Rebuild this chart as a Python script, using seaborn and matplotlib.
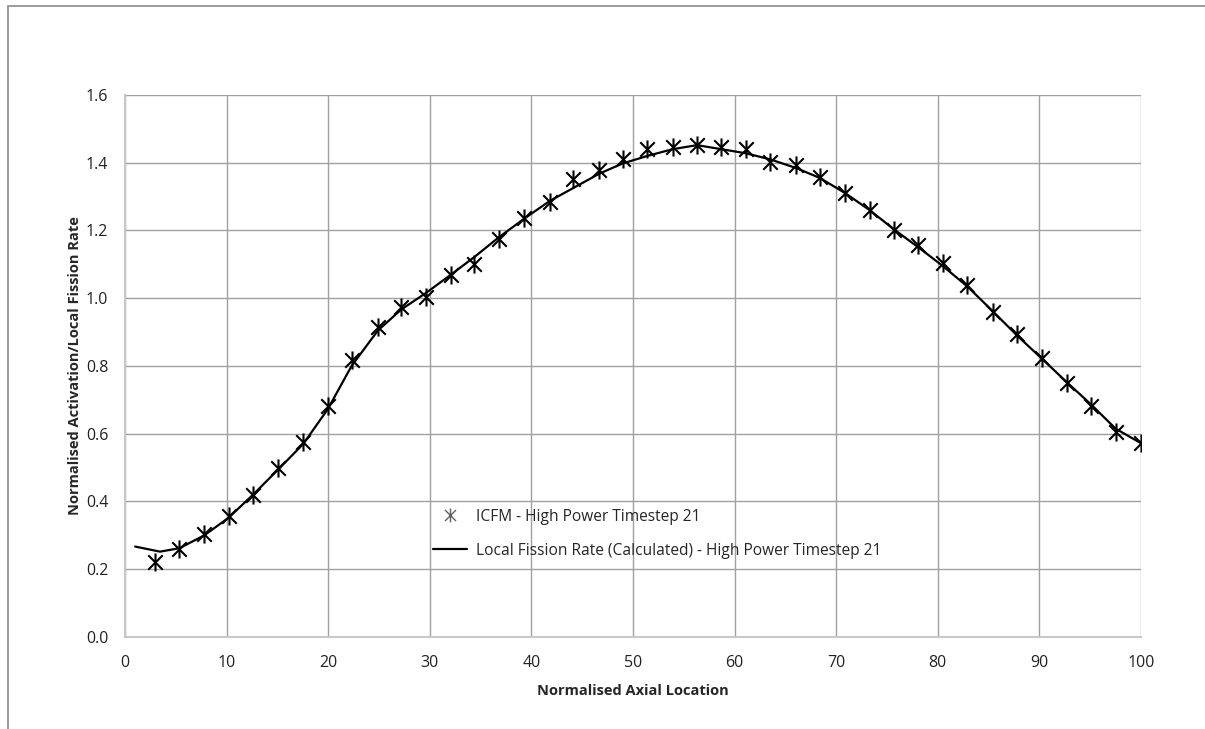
import numpy as np
import pandas as pd
import seaborn as sns
import matplotlib.pyplot as plt
from matplotlib.lines import Line2D
from matplotlib.patches import Rectangle
from matplotlib.path import Path

# ICFM measured points
icfm_x = [2.95, 5.35, 7.8, 10.2, 12.6, 15.1, 17.55, 19.95, 22.3, 24.9, 27.2, 29.6,
          32.1, 34.4, 36.8, 39.3, 41.8, 44.1, 46.7, 49.0, 51.4, 53.9, 56.3, 58.7,
          61.1, 63.5, 66.0, 68.4, 70.9, 73.3, 75.7, 78.1, 80.5, 82.9, 85.4, 87.8,
          90.3, 92.7, 95.1, 97.5, 100.0]
icfm_y = [0.222, 0.259, 0.304, 0.357, 0.419, 0.498, 0.575, 0.682, 0.818, 0.916, 0.973, 1.003,
          1.069, 1.101, 1.175, 1.236, 1.283, 1.351, 1.379, 1.410, 1.440, 1.447, 1.451, 1.446,
          1.440, 1.403, 1.393, 1.359, 1.310, 1.260, 1.201, 1.157, 1.105, 1.039, 0.960, 0.894,
          0.823, 0.749, 0.682, 0.606, 0.572]

# calculated local fission rate
calc_x = [1.0, 3.45, 5.35, 7.8, 10.2, 12.6, 15.1, 17.55, 19.95, 22.3, 24.9, 27.2, 29.6,
          32.1, 34.4, 36.8, 39.3, 41.8, 44.1, 46.7, 49.0, 51.4, 53.9, 56.3, 58.7,
          61.1, 63.5, 66.0, 68.4, 70.9, 73.3, 75.7, 78.1, 80.5, 82.9, 85.4, 87.8,
          90.3, 92.7, 95.1, 97.5, 100.0]
calc_y = [0.267, 0.252, 0.262, 0.300, 0.352, 0.420, 0.495, 0.570, 0.672, 0.800, 0.905, 0.967, 1.015,
          1.070, 1.122, 1.180, 1.235, 1.287, 1.325, 1.368, 1.398, 1.420, 1.440, 1.452, 1.440,
          1.428, 1.410, 1.385, 1.355, 1.310, 1.260, 1.203, 1.150, 1.095, 1.035, 0.962, 0.890,
          0.820, 0.752, 0.686, 0.615, 0.572]

icfm = pd.DataFrame({'x': icfm_x, 'y': icfm_y})
calc = pd.DataFrame({'x': calc_x, 'y': calc_y})

# Excel-style star marker: X plus a vertical bar
star = Path([(0, -1), (0, 1), (-0.8, -0.8), (0.8, 0.8), (-0.8, 0.8), (0.8, -0.8)],
            [Path.MOVETO, Path.LINETO] * 3)

sns.set_style('whitegrid')
plt.rcParams['font.family'] = ['Open Sans', 'DejaVu Sans']

fig = plt.figure(figsize=(12.05, 7.29), dpi=100)
ax = fig.add_axes([0.1037, 0.1262, 0.8432, 0.7435])

sns.lineplot(data=calc, x='x', y='y', color='black', linewidth=1.6, ax=ax,
             sort=False, zorder=3)
sns.scatterplot(data=icfm, x='x', y='y', marker=star, s=170, color='black',
                edgecolor='black', linewidth=1.5, ax=ax, zorder=4)

ax.set_xlim(0, 100)
ax.set_ylim(0, 1.6)
ax.set_xticks(np.arange(0, 101, 10))
ax.set_yticks(np.arange(0, 1.61, 0.2))
ax.set_yticklabels([f'{v:.1f}' for v in np.arange(0, 1.61, 0.2)])
ax.grid(True, color='#a0a0a0', linewidth=1)
ax.tick_params(axis='both', length=0, labelsize=11.5, colors='#222222')
ax.tick_params(axis='x', pad=13)
ax.tick_params(axis='y', pad=12)
for side in ['top', 'right']:
    ax.spines[side].set_visible(False)
for side in ['left', 'bottom']:
    ax.spines[side].set_color('#c8c8c8')
    ax.spines[side].set_linewidth(1.5)

ax.set_xlabel('Normalised Axial Location', fontsize=10.5, fontweight='bold', labelpad=9)
ax.set_ylabel('Normalised Activation/Local Fission Rate', fontsize=10.5, fontweight='bold',
              labelpad=3)

handles = [Line2D([], [], marker=star, linestyle='', color='#606060',
                  markersize=10, markeredgewidth=1.0),
           Line2D([], [], color='black', linewidth=1.6)]
labels = ['ICFM - High Power Timestep 21',
          'Local Fission Rate (Calculated) - High Power Timestep 21']
ax.legend(handles, labels, loc='upper left', bbox_to_anchor=(0.297, 0.248),
          frameon=False, fontsize=11.2, handlelength=2.2, handletextpad=0.55,
          labelspacing=1.15, borderaxespad=0)

fig.patches.append(Rectangle((8 / 1205, -0.1), 1.2, (729 - 6) / 729 + 0.1,
                             transform=fig.transFigure, fill=False,
                             edgecolor='#8a8a8a', linewidth=1.2, zorder=0))

fig.savefig('out.png', dpi=100)
